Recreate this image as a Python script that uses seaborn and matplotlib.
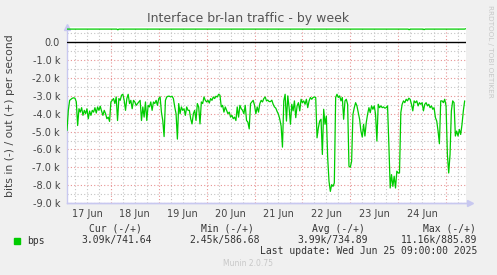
import numpy as np
import pandas as pd
import matplotlib
matplotlib.use("Agg")
import matplotlib.pyplot as plt
import seaborn as sns

# ---- data ----
# "in" traffic, kbit/s, one sample every 40 minutes starting 17 Jun 02:00
in_kbps = [
    4.94, 3.81, 3.25, 3.19, 3.13, 3.11, 3.13, 3.34, 4.66, 3.72, 3.91, 3.66, 4.09, 3.81, 4.00, 3.72,
    4.28, 3.85, 4.09, 3.81, 3.91, 3.66, 3.96, 3.62, 3.81, 3.58, 3.85, 4.09, 3.81, 4.00, 4.28, 4.19,
    4.43, 3.34, 3.25, 3.15, 3.43, 3.06, 4.38, 3.15, 3.25, 2.96, 2.91, 3.25, 3.81, 3.15, 2.91, 3.43,
    3.25, 3.72, 3.25, 3.34, 3.53, 3.43, 3.34, 3.25, 4.38, 3.62, 4.19, 3.34, 4.38, 3.53, 3.62, 3.34,
    3.81, 3.34, 3.43, 3.25, 3.53, 3.15, 3.06, 3.91, 4.38, 5.28, 3.25, 3.06, 3.02, 3.02, 3.06, 3.02,
    3.15, 3.62, 4.00, 5.42, 3.43, 4.00, 3.62, 3.81, 3.72, 4.09, 3.62, 3.81, 3.81, 4.28, 4.57, 4.00,
    3.81, 4.38, 3.43, 3.62, 4.57, 3.34, 3.43, 3.06, 3.25, 3.34, 3.25, 3.40, 3.15, 3.25, 3.06, 3.15,
    3.02, 3.06, 2.91, 2.96, 3.62, 3.53, 3.91, 3.62, 3.81, 4.00, 3.91, 4.19, 4.09, 4.28, 4.19, 4.38,
    3.62, 4.19, 3.53, 3.72, 3.81, 4.00, 3.53, 4.38, 4.47, 4.85, 3.43, 3.34, 3.25, 3.53, 4.00, 3.62,
    3.91, 3.43, 3.25, 3.34, 3.15, 3.06,
    3.28, 3.24, 3.32, 3.32, 3.24, 3.47, 3.62, 3.69, 3.88, 4.03, 4.31, 4.69, 5.87, 3.28, 2.91, 4.41,
    3.00, 3.66, 4.59, 3.47, 3.84, 3.28, 4.22, 3.56, 3.38, 3.84, 3.19, 3.38, 3.28, 3.47, 3.19, 3.66,
    3.28, 3.09, 3.19, 3.09, 3.06, 3.09, 5.35, 4.78, 4.41, 4.31, 6.28, 3.75, 4.59, 4.13, 6.47, 7.78,
    8.35, 7.97, 8.07, 7.88, 3.09, 2.91, 3.09, 3.00, 3.28, 3.09, 4.31, 3.28, 3.19, 3.47, 6.94, 7.00,
    6.66, 4.03, 3.66, 3.38, 3.56, 3.94, 4.31, 4.97, 5.31, 4.59, 5.25, 4.50, 4.03, 3.66, 3.94, 3.56,
    3.75, 3.56, 4.03, 5.53, 3.47, 3.66, 3.56, 3.66, 3.62, 3.69, 3.66, 3.56, 5.72, 8.16, 7.41, 8.07,
    7.50, 8.16, 7.22, 7.32, 7.32, 3.94, 3.47, 3.28, 3.38, 3.19, 3.28, 3.13, 3.19, 3.47, 3.84, 3.28,
    3.38, 3.28, 3.56, 3.38, 3.47, 3.38, 3.84, 3.47, 3.38, 3.56, 3.47, 3.66, 3.56, 3.75, 3.66, 4.22,
    4.41, 4.97, 5.68, 3.28, 3.28, 3.38, 3.19, 3.56, 6.28, 7.32, 6.28, 3.84, 3.28, 3.38, 5.25, 4.97,
    5.25, 4.88, 5.16, 4.59, 3.84, 3.28,
]
start_hour = 2.0          # hours after 17 Jun 00:00
step_hours = 40 / 60.0
# "out" traffic, bit/s (nearly flat)
out_hours = [2, 27, 27.5, 28, 173, 173.5, 174, 180.5, 181, 181.5, 201.3, 201.8]
out_bps = [741, 741, 700, 741, 741, 705, 741, 741, 708, 741, 741, 760]

day_labels = ["17 Jun", "18 Jun", "19 Jun", "20 Jun", "21 Jun", "22 Jun", "23 Jun", "24 Jun"]
ytick_vals = [0, -1000, -2000, -3000, -4000, -5000, -6000, -7000, -8000, -9000]
ytick_labels = ["0.0", "-1.0 k", "-2.0 k", "-3.0 k", "-4.0 k", "-5.0 k",
                "-6.0 k", "-7.0 k", "-8.0 k", "-9.0 k"]
legend_name = "bps"
stat_headers = ["Cur (-/+)", "Min (-/+)", "Avg (-/+)", "Max (-/+)"]
stat_values = ["3.09k/741.64", "2.45k/586.68", "3.99k/734.89", "11.16k/885.89"]
title = "Interface br-lan traffic - by week"
ylabel = "bits in (-) / out (+) per second"
last_update = "Last update: Wed Jun 25 09:00:00 2025"

# ---- frames ----
df_in = pd.DataFrame({
    "hour": start_hour + np.arange(len(in_kbps)) * step_hours,
    "bps": -np.array(in_kbps) * 1000.0,
})
df_out = pd.DataFrame({"hour": out_hours, "bps": out_bps})

sns.set_style("white")
plt.rcParams["font.family"] = ["DejaVu Sans"]

W, H = 497, 275
fig = plt.figure(figsize=(W / 100, H / 100), dpi=100)
fig.patch.set_facecolor("#F0F0F0")
L, R, T, B = 67, 466, 26.5, 203
ax = fig.add_axes([L / W, 1 - B / H, (R - L) / W, (B - T) / H])
ax.set_facecolor("white")

xmin, xmax = start_hour, start_hour + 200
ax.set_xlim(xmin, xmax)
ax.set_ylim(-9000, 886)

# grid
red = "#E89494"
gray = "#C4C4C4"
for h in np.arange(6, 202, 6):
    if h % 24 == 0:
        continue
    ax.axvline(h, color=gray, lw=0.8, ls=(0, (1, 2)), zorder=1)
for h in np.arange(24, 202, 24):
    ax.axvline(h, color=red, lw=0.8, ls=(0, (1, 2)), zorder=1)
for v in np.arange(500, -9000, -1000):
    ax.axhline(v, color=gray, lw=0.8, ls=(0, (1, 2)), zorder=1)
for v in ytick_vals[1:]:
    ax.axhline(v, color=red, lw=0.8, ls=(0, (1, 2)), zorder=1)

ax.axhline(0, color="black", lw=1.0, zorder=3)

sns.lineplot(data=df_in, x="hour", y="bps", ax=ax, color="#00CC00", lw=0.9, zorder=4)
sns.lineplot(data=df_out, x="hour", y="bps", ax=ax, color="#00CC00", lw=0.9, zorder=4)

# axes styling
for s in ["top", "right"]:
    ax.spines[s].set_visible(False)
axis_col = "#C8C8F0"
ax.spines["left"].set_color(axis_col)
ax.spines["bottom"].set_color(axis_col)
ax.spines["left"].set_linewidth(1.0)
ax.spines["bottom"].set_linewidth(1.0)
ax.plot([0], [1.0], marker="^", ms=4, color=axis_col, transform=ax.transAxes, clip_on=False)
ax.plot([1.01], [0], marker=">", ms=4, color=axis_col, transform=ax.transAxes, clip_on=False)
ax.plot([0, 1.01], [0, 0], color=axis_col, lw=1.0, transform=ax.transAxes, clip_on=False)

ax.set_yticks(ytick_vals)
ax.set_yticklabels(ytick_labels)
ax.tick_params(axis="y", length=2, color=red, pad=3, labelsize=7, labelcolor="#444444")
ax.set_xticks([])
ax.set_xlabel("")
ax.set_ylabel("")

for i, lab in enumerate(day_labels):
    ax.text(12 + 24 * i, -0.035, lab, transform=ax.get_xaxis_transform(),
            ha="center", va="top", fontsize=7, color="#444444")

tc = "#555555"
fig.text(248 / W, 1 - 18.5 / H, title, ha="center", va="center", fontsize=9, color=tc)
fig.text(10 / W, 1 - 116 / H, ylabel, ha="center", va="center", rotation=90,
         fontsize=7.8, color="#444444")
fig.text(490 / W, 1 - 5 / H, "RRDTOOL / TOBI OETIKER", ha="center", va="top",
         rotation=-90, fontsize=5.2, color="#C8C8C8")

mono = "DejaVu Sans Mono"
fig.patches.append(plt.Rectangle((14 / W, 1 - 243.5 / H), 6 / W, 6 / H,
                                 transform=fig.transFigure, color="#00CC00"))
fig.text(27 / W, 1 - 241 / H, legend_name, ha="left", va="center", fontsize=7,
         family=mono, color="#333333")
head_right = [142, 254, 365, 476]
val_right = [152, 260, 368, 477]
for hr, vr, hd, vl in zip(head_right, val_right, stat_headers, stat_values):
    fig.text(hr / W, 1 - 228.5 / H, hd, ha="right", va="center", fontsize=7,
             family=mono, color="#333333")
    fig.text(vr / W, 1 - 240.5 / H, vl, ha="right", va="center", fontsize=7,
             family=mono, color="#333333")
fig.text(477 / W, 1 - 251.5 / H, last_update, ha="right", va="center", fontsize=7,
         family=mono, color="#333333")
fig.text(248 / W, 1 - 264 / H, "Munin 2.0.75", ha="center", va="center", fontsize=5.5,
         color="#C8C8C8")

fig.savefig("out.png", dpi=100, facecolor=fig.get_facecolor())
